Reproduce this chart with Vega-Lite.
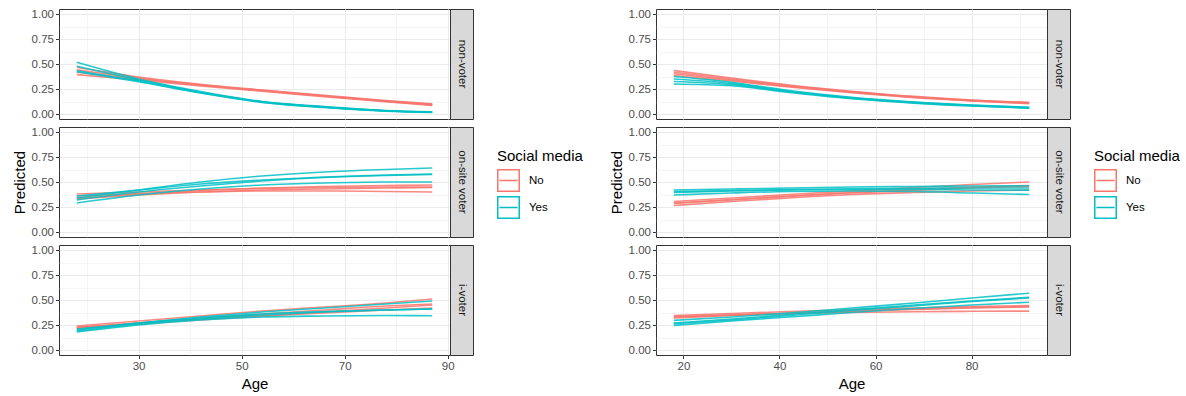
{
"$schema": "https://vega.github.io/schema/vega-lite/v6.json",
"padding": {"left": 11, "top": 7, "right": 0, "bottom": 0},
"background": "white",
"datasets": {"pred": [
{"panel":"A","outcome":"non-voter","social":"No","draw":1,"age":18,"pred":0.467},{"panel":"A","outcome":"non-voter","social":"No","draw":1,"age":30,"pred":0.37},{"panel":"A","outcome":"non-voter","social":"No","draw":1,"age":42,"pred":0.298},{"panel":"A","outcome":"non-voter","social":"No","draw":1,"age":54,"pred":0.24},{"panel":"A","outcome":"non-voter","social":"No","draw":1,"age":66,"pred":0.186},{"panel":"A","outcome":"non-voter","social":"No","draw":1,"age":78,"pred":0.135},{"panel":"A","outcome":"non-voter","social":"No","draw":1,"age":87,"pred":0.101},
{"panel":"A","outcome":"non-voter","social":"No","draw":2,"age":18,"pred":0.443},{"panel":"A","outcome":"non-voter","social":"No","draw":2,"age":30,"pred":0.36},{"panel":"A","outcome":"non-voter","social":"No","draw":2,"age":42,"pred":0.292},{"panel":"A","outcome":"non-voter","social":"No","draw":2,"age":54,"pred":0.236},{"panel":"A","outcome":"non-voter","social":"No","draw":2,"age":66,"pred":0.182},{"panel":"A","outcome":"non-voter","social":"No","draw":2,"age":78,"pred":0.13},{"panel":"A","outcome":"non-voter","social":"No","draw":2,"age":87,"pred":0.096},
{"panel":"A","outcome":"non-voter","social":"No","draw":3,"age":18,"pred":0.418},{"panel":"A","outcome":"non-voter","social":"No","draw":3,"age":30,"pred":0.35},{"panel":"A","outcome":"non-voter","social":"No","draw":3,"age":42,"pred":0.287},{"panel":"A","outcome":"non-voter","social":"No","draw":3,"age":54,"pred":0.232},{"panel":"A","outcome":"non-voter","social":"No","draw":3,"age":66,"pred":0.178},{"panel":"A","outcome":"non-voter","social":"No","draw":3,"age":78,"pred":0.126},{"panel":"A","outcome":"non-voter","social":"No","draw":3,"age":87,"pred":0.091},
{"panel":"A","outcome":"non-voter","social":"No","draw":4,"age":18,"pred":0.394},{"panel":"A","outcome":"non-voter","social":"No","draw":4,"age":30,"pred":0.34},{"panel":"A","outcome":"non-voter","social":"No","draw":4,"age":42,"pred":0.281},{"panel":"A","outcome":"non-voter","social":"No","draw":4,"age":54,"pred":0.228},{"panel":"A","outcome":"non-voter","social":"No","draw":4,"age":66,"pred":0.174},{"panel":"A","outcome":"non-voter","social":"No","draw":4,"age":78,"pred":0.122},{"panel":"A","outcome":"non-voter","social":"No","draw":4,"age":87,"pred":0.086},
{"panel":"A","outcome":"non-voter","social":"Yes","draw":1,"age":18,"pred":0.517},{"panel":"A","outcome":"non-voter","social":"Yes","draw":1,"age":30,"pred":0.35},{"panel":"A","outcome":"non-voter","social":"Yes","draw":1,"age":42,"pred":0.225},{"panel":"A","outcome":"non-voter","social":"Yes","draw":1,"age":54,"pred":0.125},{"panel":"A","outcome":"non-voter","social":"Yes","draw":1,"age":66,"pred":0.074},{"panel":"A","outcome":"non-voter","social":"Yes","draw":1,"age":78,"pred":0.035},{"panel":"A","outcome":"non-voter","social":"Yes","draw":1,"age":87,"pred":0.021},
{"panel":"A","outcome":"non-voter","social":"Yes","draw":2,"age":18,"pred":0.477},{"panel":"A","outcome":"non-voter","social":"Yes","draw":2,"age":30,"pred":0.34},{"panel":"A","outcome":"non-voter","social":"Yes","draw":2,"age":42,"pred":0.22},{"panel":"A","outcome":"non-voter","social":"Yes","draw":2,"age":54,"pred":0.122},{"panel":"A","outcome":"non-voter","social":"Yes","draw":2,"age":66,"pred":0.071},{"panel":"A","outcome":"non-voter","social":"Yes","draw":2,"age":78,"pred":0.033},{"panel":"A","outcome":"non-voter","social":"Yes","draw":2,"age":87,"pred":0.019},
{"panel":"A","outcome":"non-voter","social":"Yes","draw":3,"age":18,"pred":0.433},{"panel":"A","outcome":"non-voter","social":"Yes","draw":3,"age":30,"pred":0.33},{"panel":"A","outcome":"non-voter","social":"Yes","draw":3,"age":42,"pred":0.215},{"panel":"A","outcome":"non-voter","social":"Yes","draw":3,"age":54,"pred":0.119},{"panel":"A","outcome":"non-voter","social":"Yes","draw":3,"age":66,"pred":0.068},{"panel":"A","outcome":"non-voter","social":"Yes","draw":3,"age":78,"pred":0.031},{"panel":"A","outcome":"non-voter","social":"Yes","draw":3,"age":87,"pred":0.017},
{"panel":"A","outcome":"non-voter","social":"Yes","draw":4,"age":18,"pred":0.423},{"panel":"A","outcome":"non-voter","social":"Yes","draw":4,"age":30,"pred":0.322},{"panel":"A","outcome":"non-voter","social":"Yes","draw":4,"age":42,"pred":0.21},{"panel":"A","outcome":"non-voter","social":"Yes","draw":4,"age":54,"pred":0.116},{"panel":"A","outcome":"non-voter","social":"Yes","draw":4,"age":66,"pred":0.065},{"panel":"A","outcome":"non-voter","social":"Yes","draw":4,"age":78,"pred":0.029},{"panel":"A","outcome":"non-voter","social":"Yes","draw":4,"age":87,"pred":0.015},
{"panel":"A","outcome":"on-site voter","social":"No","draw":1,"age":18,"pred":0.38},{"panel":"A","outcome":"on-site voter","social":"No","draw":1,"age":30,"pred":0.40},{"panel":"A","outcome":"on-site voter","social":"No","draw":1,"age":42,"pred":0.42},{"panel":"A","outcome":"on-site voter","social":"No","draw":1,"age":54,"pred":0.435},{"panel":"A","outcome":"on-site voter","social":"No","draw":1,"age":66,"pred":0.445},{"panel":"A","outcome":"on-site voter","social":"No","draw":1,"age":78,"pred":0.45},{"panel":"A","outcome":"on-site voter","social":"No","draw":1,"age":87,"pred":0.45},
{"panel":"A","outcome":"on-site voter","social":"No","draw":2,"age":18,"pred":0.34},{"panel":"A","outcome":"on-site voter","social":"No","draw":2,"age":30,"pred":0.38},{"panel":"A","outcome":"on-site voter","social":"No","draw":2,"age":42,"pred":0.415},{"panel":"A","outcome":"on-site voter","social":"No","draw":2,"age":54,"pred":0.44},{"panel":"A","outcome":"on-site voter","social":"No","draw":2,"age":66,"pred":0.455},{"panel":"A","outcome":"on-site voter","social":"No","draw":2,"age":78,"pred":0.465},{"panel":"A","outcome":"on-site voter","social":"No","draw":2,"age":87,"pred":0.47},
{"panel":"A","outcome":"on-site voter","social":"No","draw":3,"age":18,"pred":0.33},{"panel":"A","outcome":"on-site voter","social":"No","draw":3,"age":30,"pred":0.37},{"panel":"A","outcome":"on-site voter","social":"No","draw":3,"age":42,"pred":0.40},{"panel":"A","outcome":"on-site voter","social":"No","draw":3,"age":54,"pred":0.42},{"panel":"A","outcome":"on-site voter","social":"No","draw":3,"age":66,"pred":0.43},{"panel":"A","outcome":"on-site voter","social":"No","draw":3,"age":78,"pred":0.44},{"panel":"A","outcome":"on-site voter","social":"No","draw":3,"age":87,"pred":0.445},
{"panel":"A","outcome":"on-site voter","social":"No","draw":4,"age":18,"pred":0.36},{"panel":"A","outcome":"on-site voter","social":"No","draw":4,"age":30,"pred":0.385},{"panel":"A","outcome":"on-site voter","social":"No","draw":4,"age":42,"pred":0.40},{"panel":"A","outcome":"on-site voter","social":"No","draw":4,"age":54,"pred":0.41},{"panel":"A","outcome":"on-site voter","social":"No","draw":4,"age":66,"pred":0.41},{"panel":"A","outcome":"on-site voter","social":"No","draw":4,"age":78,"pred":0.405},{"panel":"A","outcome":"on-site voter","social":"No","draw":4,"age":87,"pred":0.40},
{"panel":"A","outcome":"on-site voter","social":"Yes","draw":1,"age":18,"pred":0.34},{"panel":"A","outcome":"on-site voter","social":"Yes","draw":1,"age":30,"pred":0.42},{"panel":"A","outcome":"on-site voter","social":"Yes","draw":1,"age":42,"pred":0.50},{"panel":"A","outcome":"on-site voter","social":"Yes","draw":1,"age":54,"pred":0.56},{"panel":"A","outcome":"on-site voter","social":"Yes","draw":1,"age":66,"pred":0.60},{"panel":"A","outcome":"on-site voter","social":"Yes","draw":1,"age":78,"pred":0.625},{"panel":"A","outcome":"on-site voter","social":"Yes","draw":1,"age":87,"pred":0.64},
{"panel":"A","outcome":"on-site voter","social":"Yes","draw":2,"age":18,"pred":0.36},{"panel":"A","outcome":"on-site voter","social":"Yes","draw":2,"age":30,"pred":0.42},{"panel":"A","outcome":"on-site voter","social":"Yes","draw":2,"age":42,"pred":0.48},{"panel":"A","outcome":"on-site voter","social":"Yes","draw":2,"age":54,"pred":0.52},{"panel":"A","outcome":"on-site voter","social":"Yes","draw":2,"age":66,"pred":0.55},{"panel":"A","outcome":"on-site voter","social":"Yes","draw":2,"age":78,"pred":0.57},{"panel":"A","outcome":"on-site voter","social":"Yes","draw":2,"age":87,"pred":0.58},
{"panel":"A","outcome":"on-site voter","social":"Yes","draw":3,"age":18,"pred":0.32},{"panel":"A","outcome":"on-site voter","social":"Yes","draw":3,"age":30,"pred":0.40},{"panel":"A","outcome":"on-site voter","social":"Yes","draw":3,"age":42,"pred":0.46},{"panel":"A","outcome":"on-site voter","social":"Yes","draw":3,"age":54,"pred":0.51},{"panel":"A","outcome":"on-site voter","social":"Yes","draw":3,"age":66,"pred":0.545},{"panel":"A","outcome":"on-site voter","social":"Yes","draw":3,"age":78,"pred":0.565},{"panel":"A","outcome":"on-site voter","social":"Yes","draw":3,"age":87,"pred":0.575},
{"panel":"A","outcome":"on-site voter","social":"Yes","draw":4,"age":18,"pred":0.29},{"panel":"A","outcome":"on-site voter","social":"Yes","draw":4,"age":30,"pred":0.37},{"panel":"A","outcome":"on-site voter","social":"Yes","draw":4,"age":42,"pred":0.43},{"panel":"A","outcome":"on-site voter","social":"Yes","draw":4,"age":54,"pred":0.47},{"panel":"A","outcome":"on-site voter","social":"Yes","draw":4,"age":66,"pred":0.49},{"panel":"A","outcome":"on-site voter","social":"Yes","draw":4,"age":78,"pred":0.50},{"panel":"A","outcome":"on-site voter","social":"Yes","draw":4,"age":87,"pred":0.50},
{"panel":"A","outcome":"i-voter","social":"No","draw":1,"age":18,"pred":0.24},{"panel":"A","outcome":"i-voter","social":"No","draw":1,"age":30,"pred":0.29},{"panel":"A","outcome":"i-voter","social":"No","draw":1,"age":42,"pred":0.34},{"panel":"A","outcome":"i-voter","social":"No","draw":1,"age":54,"pred":0.39},{"panel":"A","outcome":"i-voter","social":"No","draw":1,"age":66,"pred":0.43},{"panel":"A","outcome":"i-voter","social":"No","draw":1,"age":78,"pred":0.47},{"panel":"A","outcome":"i-voter","social":"No","draw":1,"age":87,"pred":0.51},
{"panel":"A","outcome":"i-voter","social":"No","draw":2,"age":18,"pred":0.22},{"panel":"A","outcome":"i-voter","social":"No","draw":2,"age":30,"pred":0.27},{"panel":"A","outcome":"i-voter","social":"No","draw":2,"age":42,"pred":0.32},{"panel":"A","outcome":"i-voter","social":"No","draw":2,"age":54,"pred":0.36},{"panel":"A","outcome":"i-voter","social":"No","draw":2,"age":66,"pred":0.40},{"panel":"A","outcome":"i-voter","social":"No","draw":2,"age":78,"pred":0.44},{"panel":"A","outcome":"i-voter","social":"No","draw":2,"age":87,"pred":0.46},
{"panel":"A","outcome":"i-voter","social":"No","draw":3,"age":18,"pred":0.215},{"panel":"A","outcome":"i-voter","social":"No","draw":3,"age":30,"pred":0.26},{"panel":"A","outcome":"i-voter","social":"No","draw":3,"age":42,"pred":0.30},{"panel":"A","outcome":"i-voter","social":"No","draw":3,"age":54,"pred":0.34},{"panel":"A","outcome":"i-voter","social":"No","draw":3,"age":66,"pred":0.38},{"panel":"A","outcome":"i-voter","social":"No","draw":3,"age":78,"pred":0.42},{"panel":"A","outcome":"i-voter","social":"No","draw":3,"age":87,"pred":0.45},
{"panel":"A","outcome":"i-voter","social":"No","draw":4,"age":18,"pred":0.23},{"panel":"A","outcome":"i-voter","social":"No","draw":4,"age":30,"pred":0.27},{"panel":"A","outcome":"i-voter","social":"No","draw":4,"age":42,"pred":0.31},{"panel":"A","outcome":"i-voter","social":"No","draw":4,"age":54,"pred":0.34},{"panel":"A","outcome":"i-voter","social":"No","draw":4,"age":66,"pred":0.37},{"panel":"A","outcome":"i-voter","social":"No","draw":4,"age":78,"pred":0.40},{"panel":"A","outcome":"i-voter","social":"No","draw":4,"age":87,"pred":0.42},
{"panel":"A","outcome":"i-voter","social":"Yes","draw":1,"age":18,"pred":0.20},{"panel":"A","outcome":"i-voter","social":"Yes","draw":1,"age":30,"pred":0.27},{"panel":"A","outcome":"i-voter","social":"Yes","draw":1,"age":42,"pred":0.33},{"panel":"A","outcome":"i-voter","social":"Yes","draw":1,"age":54,"pred":0.38},{"panel":"A","outcome":"i-voter","social":"Yes","draw":1,"age":66,"pred":0.42},{"panel":"A","outcome":"i-voter","social":"Yes","draw":1,"age":78,"pred":0.46},{"panel":"A","outcome":"i-voter","social":"Yes","draw":1,"age":87,"pred":0.49},
{"panel":"A","outcome":"i-voter","social":"Yes","draw":2,"age":18,"pred":0.21},{"panel":"A","outcome":"i-voter","social":"Yes","draw":2,"age":30,"pred":0.27},{"panel":"A","outcome":"i-voter","social":"Yes","draw":2,"age":42,"pred":0.32},{"panel":"A","outcome":"i-voter","social":"Yes","draw":2,"age":54,"pred":0.36},{"panel":"A","outcome":"i-voter","social":"Yes","draw":2,"age":66,"pred":0.385},{"panel":"A","outcome":"i-voter","social":"Yes","draw":2,"age":78,"pred":0.40},{"panel":"A","outcome":"i-voter","social":"Yes","draw":2,"age":87,"pred":0.41},
{"panel":"A","outcome":"i-voter","social":"Yes","draw":3,"age":18,"pred":0.19},{"panel":"A","outcome":"i-voter","social":"Yes","draw":3,"age":30,"pred":0.26},{"panel":"A","outcome":"i-voter","social":"Yes","draw":3,"age":42,"pred":0.31},{"panel":"A","outcome":"i-voter","social":"Yes","draw":3,"age":54,"pred":0.35},{"panel":"A","outcome":"i-voter","social":"Yes","draw":3,"age":66,"pred":0.38},{"panel":"A","outcome":"i-voter","social":"Yes","draw":3,"age":78,"pred":0.40},{"panel":"A","outcome":"i-voter","social":"Yes","draw":3,"age":87,"pred":0.41},
{"panel":"A","outcome":"i-voter","social":"Yes","draw":4,"age":18,"pred":0.18},{"panel":"A","outcome":"i-voter","social":"Yes","draw":4,"age":30,"pred":0.25},{"panel":"A","outcome":"i-voter","social":"Yes","draw":4,"age":42,"pred":0.30},{"panel":"A","outcome":"i-voter","social":"Yes","draw":4,"age":54,"pred":0.33},{"panel":"A","outcome":"i-voter","social":"Yes","draw":4,"age":66,"pred":0.34},{"panel":"A","outcome":"i-voter","social":"Yes","draw":4,"age":78,"pred":0.345},{"panel":"A","outcome":"i-voter","social":"Yes","draw":4,"age":87,"pred":0.343},
{"panel":"B","outcome":"non-voter","social":"No","draw":1,"age":18,"pred":0.435},{"panel":"B","outcome":"non-voter","social":"No","draw":1,"age":30,"pred":0.36},{"panel":"B","outcome":"non-voter","social":"No","draw":1,"age":42,"pred":0.29},{"panel":"B","outcome":"non-voter","social":"No","draw":1,"age":55,"pred":0.228},{"panel":"B","outcome":"non-voter","social":"No","draw":1,"age":68,"pred":0.176},{"panel":"B","outcome":"non-voter","social":"No","draw":1,"age":80,"pred":0.14},{"panel":"B","outcome":"non-voter","social":"No","draw":1,"age":92,"pred":0.116},
{"panel":"B","outcome":"non-voter","social":"No","draw":2,"age":18,"pred":0.418},{"panel":"B","outcome":"non-voter","social":"No","draw":2,"age":30,"pred":0.35},{"panel":"B","outcome":"non-voter","social":"No","draw":2,"age":42,"pred":0.283},{"panel":"B","outcome":"non-voter","social":"No","draw":2,"age":55,"pred":0.223},{"panel":"B","outcome":"non-voter","social":"No","draw":2,"age":68,"pred":0.172},{"panel":"B","outcome":"non-voter","social":"No","draw":2,"age":80,"pred":0.137},{"panel":"B","outcome":"non-voter","social":"No","draw":2,"age":92,"pred":0.112},
{"panel":"B","outcome":"non-voter","social":"No","draw":3,"age":18,"pred":0.402},{"panel":"B","outcome":"non-voter","social":"No","draw":3,"age":30,"pred":0.34},{"panel":"B","outcome":"non-voter","social":"No","draw":3,"age":42,"pred":0.277},{"panel":"B","outcome":"non-voter","social":"No","draw":3,"age":55,"pred":0.218},{"panel":"B","outcome":"non-voter","social":"No","draw":3,"age":68,"pred":0.168},{"panel":"B","outcome":"non-voter","social":"No","draw":3,"age":80,"pred":0.133},{"panel":"B","outcome":"non-voter","social":"No","draw":3,"age":92,"pred":0.108},
{"panel":"B","outcome":"non-voter","social":"No","draw":4,"age":18,"pred":0.385},{"panel":"B","outcome":"non-voter","social":"No","draw":4,"age":30,"pred":0.33},{"panel":"B","outcome":"non-voter","social":"No","draw":4,"age":42,"pred":0.27},{"panel":"B","outcome":"non-voter","social":"No","draw":4,"age":55,"pred":0.212},{"panel":"B","outcome":"non-voter","social":"No","draw":4,"age":68,"pred":0.164},{"panel":"B","outcome":"non-voter","social":"No","draw":4,"age":80,"pred":0.13},{"panel":"B","outcome":"non-voter","social":"No","draw":4,"age":92,"pred":0.104},
{"panel":"B","outcome":"non-voter","social":"Yes","draw":1,"age":18,"pred":0.375},{"panel":"B","outcome":"non-voter","social":"Yes","draw":1,"age":30,"pred":0.318},{"panel":"B","outcome":"non-voter","social":"Yes","draw":1,"age":42,"pred":0.235},{"panel":"B","outcome":"non-voter","social":"Yes","draw":1,"age":55,"pred":0.167},{"panel":"B","outcome":"non-voter","social":"Yes","draw":1,"age":68,"pred":0.12},{"panel":"B","outcome":"non-voter","social":"Yes","draw":1,"age":80,"pred":0.089},{"panel":"B","outcome":"non-voter","social":"Yes","draw":1,"age":92,"pred":0.067},
{"panel":"B","outcome":"non-voter","social":"Yes","draw":2,"age":18,"pred":0.35},{"panel":"B","outcome":"non-voter","social":"Yes","draw":2,"age":30,"pred":0.306},{"panel":"B","outcome":"non-voter","social":"Yes","draw":2,"age":42,"pred":0.228},{"panel":"B","outcome":"non-voter","social":"Yes","draw":2,"age":55,"pred":0.162},{"panel":"B","outcome":"non-voter","social":"Yes","draw":2,"age":68,"pred":0.117},{"panel":"B","outcome":"non-voter","social":"Yes","draw":2,"age":80,"pred":0.086},{"panel":"B","outcome":"non-voter","social":"Yes","draw":2,"age":92,"pred":0.064},
{"panel":"B","outcome":"non-voter","social":"Yes","draw":3,"age":18,"pred":0.325},{"panel":"B","outcome":"non-voter","social":"Yes","draw":3,"age":30,"pred":0.294},{"panel":"B","outcome":"non-voter","social":"Yes","draw":3,"age":42,"pred":0.222},{"panel":"B","outcome":"non-voter","social":"Yes","draw":3,"age":55,"pred":0.158},{"panel":"B","outcome":"non-voter","social":"Yes","draw":3,"age":68,"pred":0.113},{"panel":"B","outcome":"non-voter","social":"Yes","draw":3,"age":80,"pred":0.083},{"panel":"B","outcome":"non-voter","social":"Yes","draw":3,"age":92,"pred":0.061},
{"panel":"B","outcome":"non-voter","social":"Yes","draw":4,"age":18,"pred":0.30},{"panel":"B","outcome":"non-voter","social":"Yes","draw":4,"age":30,"pred":0.282},{"panel":"B","outcome":"non-voter","social":"Yes","draw":4,"age":42,"pred":0.215},{"panel":"B","outcome":"non-voter","social":"Yes","draw":4,"age":55,"pred":0.153},{"panel":"B","outcome":"non-voter","social":"Yes","draw":4,"age":68,"pred":0.109},{"panel":"B","outcome":"non-voter","social":"Yes","draw":4,"age":80,"pred":0.08},{"panel":"B","outcome":"non-voter","social":"Yes","draw":4,"age":92,"pred":0.058},
{"panel":"B","outcome":"on-site voter","social":"No","draw":1,"age":18,"pred":0.305},{"panel":"B","outcome":"on-site voter","social":"No","draw":1,"age":30,"pred":0.34},{"panel":"B","outcome":"on-site voter","social":"No","draw":1,"age":42,"pred":0.375},{"panel":"B","outcome":"on-site voter","social":"No","draw":1,"age":55,"pred":0.41},{"panel":"B","outcome":"on-site voter","social":"No","draw":1,"age":68,"pred":0.445},{"panel":"B","outcome":"on-site voter","social":"No","draw":1,"age":80,"pred":0.475},{"panel":"B","outcome":"on-site voter","social":"No","draw":1,"age":92,"pred":0.50},
{"panel":"B","outcome":"on-site voter","social":"No","draw":2,"age":18,"pred":0.29},{"panel":"B","outcome":"on-site voter","social":"No","draw":2,"age":30,"pred":0.325},{"panel":"B","outcome":"on-site voter","social":"No","draw":2,"age":42,"pred":0.36},{"panel":"B","outcome":"on-site voter","social":"No","draw":2,"age":55,"pred":0.395},{"panel":"B","outcome":"on-site voter","social":"No","draw":2,"age":68,"pred":0.425},{"panel":"B","outcome":"on-site voter","social":"No","draw":2,"age":80,"pred":0.45},{"panel":"B","outcome":"on-site voter","social":"No","draw":2,"age":92,"pred":0.465},
{"panel":"B","outcome":"on-site voter","social":"No","draw":3,"age":18,"pred":0.285},{"panel":"B","outcome":"on-site voter","social":"No","draw":3,"age":30,"pred":0.32},{"panel":"B","outcome":"on-site voter","social":"No","draw":3,"age":42,"pred":0.355},{"panel":"B","outcome":"on-site voter","social":"No","draw":3,"age":55,"pred":0.39},{"panel":"B","outcome":"on-site voter","social":"No","draw":3,"age":68,"pred":0.415},{"panel":"B","outcome":"on-site voter","social":"No","draw":3,"age":80,"pred":0.44},{"panel":"B","outcome":"on-site voter","social":"No","draw":3,"age":92,"pred":0.455},
{"panel":"B","outcome":"on-site voter","social":"No","draw":4,"age":18,"pred":0.265},{"panel":"B","outcome":"on-site voter","social":"No","draw":4,"age":30,"pred":0.305},{"panel":"B","outcome":"on-site voter","social":"No","draw":4,"age":42,"pred":0.34},{"panel":"B","outcome":"on-site voter","social":"No","draw":4,"age":55,"pred":0.375},{"panel":"B","outcome":"on-site voter","social":"No","draw":4,"age":68,"pred":0.395},{"panel":"B","outcome":"on-site voter","social":"No","draw":4,"age":80,"pred":0.41},{"panel":"B","outcome":"on-site voter","social":"No","draw":4,"age":92,"pred":0.42},
{"panel":"B","outcome":"on-site voter","social":"Yes","draw":1,"age":18,"pred":0.42},{"panel":"B","outcome":"on-site voter","social":"Yes","draw":1,"age":30,"pred":0.43},{"panel":"B","outcome":"on-site voter","social":"Yes","draw":1,"age":42,"pred":0.44},{"panel":"B","outcome":"on-site voter","social":"Yes","draw":1,"age":55,"pred":0.45},{"panel":"B","outcome":"on-site voter","social":"Yes","draw":1,"age":68,"pred":0.455},{"panel":"B","outcome":"on-site voter","social":"Yes","draw":1,"age":80,"pred":0.46},{"panel":"B","outcome":"on-site voter","social":"Yes","draw":1,"age":92,"pred":0.462},
{"panel":"B","outcome":"on-site voter","social":"Yes","draw":2,"age":18,"pred":0.405},{"panel":"B","outcome":"on-site voter","social":"Yes","draw":2,"age":30,"pred":0.415},{"panel":"B","outcome":"on-site voter","social":"Yes","draw":2,"age":42,"pred":0.425},{"panel":"B","outcome":"on-site voter","social":"Yes","draw":2,"age":55,"pred":0.432},{"panel":"B","outcome":"on-site voter","social":"Yes","draw":2,"age":68,"pred":0.436},{"panel":"B","outcome":"on-site voter","social":"Yes","draw":2,"age":80,"pred":0.44},{"panel":"B","outcome":"on-site voter","social":"Yes","draw":2,"age":92,"pred":0.44},
{"panel":"B","outcome":"on-site voter","social":"Yes","draw":3,"age":18,"pred":0.395},{"panel":"B","outcome":"on-site voter","social":"Yes","draw":3,"age":30,"pred":0.41},{"panel":"B","outcome":"on-site voter","social":"Yes","draw":3,"age":42,"pred":0.42},{"panel":"B","outcome":"on-site voter","social":"Yes","draw":3,"age":55,"pred":0.425},{"panel":"B","outcome":"on-site voter","social":"Yes","draw":3,"age":68,"pred":0.425},{"panel":"B","outcome":"on-site voter","social":"Yes","draw":3,"age":80,"pred":0.42},{"panel":"B","outcome":"on-site voter","social":"Yes","draw":3,"age":92,"pred":0.419},
{"panel":"B","outcome":"on-site voter","social":"Yes","draw":4,"age":18,"pred":0.37},{"panel":"B","outcome":"on-site voter","social":"Yes","draw":4,"age":30,"pred":0.39},{"panel":"B","outcome":"on-site voter","social":"Yes","draw":4,"age":42,"pred":0.405},{"panel":"B","outcome":"on-site voter","social":"Yes","draw":4,"age":55,"pred":0.41},{"panel":"B","outcome":"on-site voter","social":"Yes","draw":4,"age":68,"pred":0.405},{"panel":"B","outcome":"on-site voter","social":"Yes","draw":4,"age":80,"pred":0.39},{"panel":"B","outcome":"on-site voter","social":"Yes","draw":4,"age":92,"pred":0.375},
{"panel":"B","outcome":"i-voter","social":"No","draw":1,"age":18,"pred":0.345},{"panel":"B","outcome":"i-voter","social":"No","draw":1,"age":30,"pred":0.365},{"panel":"B","outcome":"i-voter","social":"No","draw":1,"age":42,"pred":0.385},{"panel":"B","outcome":"i-voter","social":"No","draw":1,"age":55,"pred":0.405},{"panel":"B","outcome":"i-voter","social":"No","draw":1,"age":68,"pred":0.42},{"panel":"B","outcome":"i-voter","social":"No","draw":1,"age":80,"pred":0.435},{"panel":"B","outcome":"i-voter","social":"No","draw":1,"age":92,"pred":0.445},
{"panel":"B","outcome":"i-voter","social":"No","draw":2,"age":18,"pred":0.33},{"panel":"B","outcome":"i-voter","social":"No","draw":2,"age":30,"pred":0.35},{"panel":"B","outcome":"i-voter","social":"No","draw":2,"age":42,"pred":0.37},{"panel":"B","outcome":"i-voter","social":"No","draw":2,"age":55,"pred":0.39},{"panel":"B","outcome":"i-voter","social":"No","draw":2,"age":68,"pred":0.41},{"panel":"B","outcome":"i-voter","social":"No","draw":2,"age":80,"pred":0.425},{"panel":"B","outcome":"i-voter","social":"No","draw":2,"age":92,"pred":0.435},
{"panel":"B","outcome":"i-voter","social":"No","draw":3,"age":18,"pred":0.32},{"panel":"B","outcome":"i-voter","social":"No","draw":3,"age":30,"pred":0.345},{"panel":"B","outcome":"i-voter","social":"No","draw":3,"age":42,"pred":0.365},{"panel":"B","outcome":"i-voter","social":"No","draw":3,"age":55,"pred":0.385},{"panel":"B","outcome":"i-voter","social":"No","draw":3,"age":68,"pred":0.405},{"panel":"B","outcome":"i-voter","social":"No","draw":3,"age":80,"pred":0.42},{"panel":"B","outcome":"i-voter","social":"No","draw":3,"age":92,"pred":0.43},
{"panel":"B","outcome":"i-voter","social":"No","draw":4,"age":18,"pred":0.335},{"panel":"B","outcome":"i-voter","social":"No","draw":4,"age":30,"pred":0.35},{"panel":"B","outcome":"i-voter","social":"No","draw":4,"age":42,"pred":0.365},{"panel":"B","outcome":"i-voter","social":"No","draw":4,"age":55,"pred":0.375},{"panel":"B","outcome":"i-voter","social":"No","draw":4,"age":68,"pred":0.383},{"panel":"B","outcome":"i-voter","social":"No","draw":4,"age":80,"pred":0.387},{"panel":"B","outcome":"i-voter","social":"No","draw":4,"age":92,"pred":0.389},
{"panel":"B","outcome":"i-voter","social":"Yes","draw":1,"age":18,"pred":0.296},{"panel":"B","outcome":"i-voter","social":"Yes","draw":1,"age":30,"pred":0.33},{"panel":"B","outcome":"i-voter","social":"Yes","draw":1,"age":42,"pred":0.37},{"panel":"B","outcome":"i-voter","social":"Yes","draw":1,"age":55,"pred":0.42},{"panel":"B","outcome":"i-voter","social":"Yes","draw":1,"age":68,"pred":0.47},{"panel":"B","outcome":"i-voter","social":"Yes","draw":1,"age":80,"pred":0.52},{"panel":"B","outcome":"i-voter","social":"Yes","draw":1,"age":92,"pred":0.568},
{"panel":"B","outcome":"i-voter","social":"Yes","draw":2,"age":18,"pred":0.27},{"panel":"B","outcome":"i-voter","social":"Yes","draw":2,"age":30,"pred":0.31},{"panel":"B","outcome":"i-voter","social":"Yes","draw":2,"age":42,"pred":0.355},{"panel":"B","outcome":"i-voter","social":"Yes","draw":2,"age":55,"pred":0.405},{"panel":"B","outcome":"i-voter","social":"Yes","draw":2,"age":68,"pred":0.45},{"panel":"B","outcome":"i-voter","social":"Yes","draw":2,"age":80,"pred":0.49},{"panel":"B","outcome":"i-voter","social":"Yes","draw":2,"age":92,"pred":0.528},
{"panel":"B","outcome":"i-voter","social":"Yes","draw":3,"age":18,"pred":0.262},{"panel":"B","outcome":"i-voter","social":"Yes","draw":3,"age":30,"pred":0.30},{"panel":"B","outcome":"i-voter","social":"Yes","draw":3,"age":42,"pred":0.345},{"panel":"B","outcome":"i-voter","social":"Yes","draw":3,"age":55,"pred":0.395},{"panel":"B","outcome":"i-voter","social":"Yes","draw":3,"age":68,"pred":0.44},{"panel":"B","outcome":"i-voter","social":"Yes","draw":3,"age":80,"pred":0.485},{"panel":"B","outcome":"i-voter","social":"Yes","draw":3,"age":92,"pred":0.52},
{"panel":"B","outcome":"i-voter","social":"Yes","draw":4,"age":18,"pred":0.246},{"panel":"B","outcome":"i-voter","social":"Yes","draw":4,"age":30,"pred":0.29},{"panel":"B","outcome":"i-voter","social":"Yes","draw":4,"age":42,"pred":0.33},{"panel":"B","outcome":"i-voter","social":"Yes","draw":4,"age":55,"pred":0.375},{"panel":"B","outcome":"i-voter","social":"Yes","draw":4,"age":68,"pred":0.415},{"panel":"B","outcome":"i-voter","social":"Yes","draw":4,"age":80,"pred":0.45},{"panel":"B","outcome":"i-voter","social":"Yes","draw":4,"age":92,"pred":0.478}
]},
"config": {
  "font": "Liberation Sans",
  "view": {"stroke": "#333333", "strokeWidth": 1},
  "axis": {"domain": false, "gridColor": "#EBEBEB", "labelColor": "#4D4D4D", "labelFontSize": 11.5, "tickColor": "#333333", "tickSize": 3.5, "tickWidth": 1, "labelPadding": 2, "titleFontSize": 15, "titleFontWeight": "normal", "titleColor": "#000000", "labelOverlap": false, "labelFlush": false, "titlePadding": 4},
  "legend": {"titleFontSize": 15, "titleFontWeight": "normal", "titleColor": "#000000", "labelFontSize": 11.5, "labelColor": "#000000", "labelOffset": 9, "rowPadding": -2, "titlePadding": 5, "padding": 0}
},
"spacing": 24,
"resolve": {"scale": {"color": "independent"}, "legend": {"color": "independent"}},
"hconcat": [
 {"vconcat": [
  {"hconcat": [
   {"width": 391, "height": 110, "data": {"name": "pred"},
    "transform": [{"filter": "datum.panel === 'A' && datum.outcome === 'non-voter'"}],
    "mark": {"type": "line", "strokeWidth": 1.6, "opacity": 0.85, "interpolate": "monotone"},
    "encoding": {
     "x": {"field": "age", "type": "quantitative", "scale": {"domain": [14.55, 90.45], "nice": false, "zero": false},
       "axis": {"values": [20,30,40,50,60,70,80,90], "labels": false, "ticks": false, "title": null, "gridWidth": {"condition": {"test": "(datum.value/10)%2===0", "value": 0.5}, "value": 1}}},
     "y": {"field": "pred", "type": "quantitative", "scale": {"domain": [-0.05, 1.05], "nice": false, "zero": false},
       "axis": {"values": [0,0.125,0.25,0.375,0.5,0.625,0.75,0.875,1], "title": null, "labelExpr": "datum.value % 0.25 === 0 ? format(datum.value, '.2f') : ''", "gridWidth": {"condition": {"test": "datum.value % 0.25 !== 0", "value": 0.5}, "value": 1}, "tickOpacity": {"condition": {"test": "datum.value % 0.25 !== 0", "value": 0}, "value": 1}}},
     "color": {"field": "social", "type": "nominal", "scale": {"domain": ["No","Yes"], "range": ["#F8766D","#00BFC4"]}, "legend": null},
     "detail": {"field": "draw", "type": "nominal"}
    }},
   {"width": 23, "height": 110, "view": {"fill": "#D9D9D9", "stroke": "#333333"},
    "data": {"values": [{"label": "non-voter"}]},
    "mark": {"type": "text", "angle": 90, "fontSize": 11.5, "color": "#1A1A1A", "align": "center", "baseline": "middle"},
    "encoding": {"text": {"field": "label", "type": "nominal"}}}
  ], "spacing": 0, "bounds": "flush", "resolve": {"scale": {"color": "independent"}, "legend": {"color": "independent"}}},
  {"hconcat": [
   {"width": 391, "height": 110, "data": {"name": "pred"},
    "transform": [{"filter": "datum.panel === 'A' && datum.outcome === 'on-site voter'"}],
    "mark": {"type": "line", "strokeWidth": 1.6, "opacity": 0.85, "interpolate": "monotone"},
    "encoding": {
     "x": {"field": "age", "type": "quantitative", "scale": {"domain": [14.55, 90.45], "nice": false, "zero": false},
       "axis": {"values": [20,30,40,50,60,70,80,90], "labels": false, "ticks": false, "title": null, "gridWidth": {"condition": {"test": "(datum.value/10)%2===0", "value": 0.5}, "value": 1}}},
     "y": {"field": "pred", "type": "quantitative", "scale": {"domain": [-0.05, 1.05], "nice": false, "zero": false},
       "axis": {"values": [0,0.125,0.25,0.375,0.5,0.625,0.75,0.875,1], "title": "Predicted", "labelExpr": "datum.value % 0.25 === 0 ? format(datum.value, '.2f') : ''", "gridWidth": {"condition": {"test": "datum.value % 0.25 !== 0", "value": 0.5}, "value": 1}, "tickOpacity": {"condition": {"test": "datum.value % 0.25 !== 0", "value": 0}, "value": 1}}},
     "color": {"field": "social", "type": "nominal", "scale": {"domain": ["No","Yes"], "range": ["#F8766D","#00BFC4"]}, "legend": null},
     "detail": {"field": "draw", "type": "nominal"}
    }},
   {"width": 23, "height": 110, "view": {"fill": "#D9D9D9", "stroke": "#333333"},
    "layer": [
     {"data": {"values": [{"label": "on-site voter"}]},
      "mark": {"type": "text", "angle": 90, "fontSize": 11.5, "color": "#1A1A1A", "align": "center", "baseline": "middle"},
      "encoding": {"text": {"field": "label", "type": "nominal"}}},
     {"data": {"values": [{"social": "No"}, {"social": "Yes"}]},
      "mark": {"type": "line", "strokeOpacity": 0},
      "encoding": {"color": {"field": "social", "type": "nominal", "scale": {"domain": ["No","Yes"], "range": ["#F8766D","#00BFC4"]}, "title": "Social media",
        "legend": {"orient": "none", "legendX": 47, "legendY": 22, "symbolType": "M-1,-1L1,-1L1,1L-1,1Z M-0.85,0L0.85,0", "symbolSize": 460, "symbolStrokeWidth": 1.5, "symbolOpacity": 1, "symbolFillColor": "transparent"}}}}
    ]}
  ], "spacing": 0, "bounds": "flush", "resolve": {"scale": {"color": "independent"}, "legend": {"color": "independent"}}},
  {"hconcat": [
   {"width": 391, "height": 110, "data": {"name": "pred"},
    "transform": [{"filter": "datum.panel === 'A' && datum.outcome === 'i-voter'"}],
    "mark": {"type": "line", "strokeWidth": 1.6, "opacity": 0.85, "interpolate": "monotone"},
    "encoding": {
     "x": {"field": "age", "type": "quantitative", "scale": {"domain": [14.55, 90.45], "nice": false, "zero": false},
       "axis": {"values": [20,30,40,50,60,70,80,90], "title": "Age", "labelExpr": "(datum.value/10)%2===1 ? datum.label : ''", "gridWidth": {"condition": {"test": "(datum.value/10)%2===0", "value": 0.5}, "value": 1}, "tickOpacity": {"condition": {"test": "(datum.value/10)%2===0", "value": 0}, "value": 1}}},
     "y": {"field": "pred", "type": "quantitative", "scale": {"domain": [-0.05, 1.05], "nice": false, "zero": false},
       "axis": {"values": [0,0.125,0.25,0.375,0.5,0.625,0.75,0.875,1], "title": null, "labelExpr": "datum.value % 0.25 === 0 ? format(datum.value, '.2f') : ''", "gridWidth": {"condition": {"test": "datum.value % 0.25 !== 0", "value": 0.5}, "value": 1}, "tickOpacity": {"condition": {"test": "datum.value % 0.25 !== 0", "value": 0}, "value": 1}}},
     "color": {"field": "social", "type": "nominal", "scale": {"domain": ["No","Yes"], "range": ["#F8766D","#00BFC4"]}, "legend": null},
     "detail": {"field": "draw", "type": "nominal"}
    }},
   {"width": 23, "height": 110, "view": {"fill": "#D9D9D9", "stroke": "#333333"},
    "data": {"values": [{"label": "i-voter"}]},
    "mark": {"type": "text", "angle": 90, "fontSize": 11.5, "color": "#1A1A1A", "align": "center", "baseline": "middle"},
    "encoding": {"text": {"field": "label", "type": "nominal"}}}
  ], "spacing": 0, "bounds": "flush", "resolve": {"scale": {"color": "independent"}, "legend": {"color": "independent"}}}
 ], "spacing": 5, "resolve": {"scale": {"color": "independent"}, "legend": {"color": "independent"}}},
 {"vconcat": [
  {"hconcat": [
   {"width": 391, "height": 110, "data": {"name": "pred"},
    "transform": [{"filter": "datum.panel === 'B' && datum.outcome === 'non-voter'"}],
    "mark": {"type": "line", "strokeWidth": 1.6, "opacity": 0.85, "interpolate": "monotone"},
    "encoding": {
     "x": {"field": "age", "type": "quantitative", "scale": {"domain": [14.3, 95.7], "nice": false, "zero": false},
       "axis": {"values": [20,30,40,50,60,70,80,90], "labels": false, "ticks": false, "title": null, "gridWidth": {"condition": {"test": "(datum.value/10)%2===1", "value": 0.5}, "value": 1}}},
     "y": {"field": "pred", "type": "quantitative", "scale": {"domain": [-0.05, 1.05], "nice": false, "zero": false},
       "axis": {"values": [0,0.125,0.25,0.375,0.5,0.625,0.75,0.875,1], "title": null, "labelExpr": "datum.value % 0.25 === 0 ? format(datum.value, '.2f') : ''", "gridWidth": {"condition": {"test": "datum.value % 0.25 !== 0", "value": 0.5}, "value": 1}, "tickOpacity": {"condition": {"test": "datum.value % 0.25 !== 0", "value": 0}, "value": 1}}},
     "color": {"field": "social", "type": "nominal", "scale": {"domain": ["No","Yes"], "range": ["#F8766D","#00BFC4"]}, "legend": null},
     "detail": {"field": "draw", "type": "nominal"}
    }},
   {"width": 23, "height": 110, "view": {"fill": "#D9D9D9", "stroke": "#333333"},
    "data": {"values": [{"label": "non-voter"}]},
    "mark": {"type": "text", "angle": 90, "fontSize": 11.5, "color": "#1A1A1A", "align": "center", "baseline": "middle"},
    "encoding": {"text": {"field": "label", "type": "nominal"}}}
  ], "spacing": 0, "bounds": "flush", "resolve": {"scale": {"color": "independent"}, "legend": {"color": "independent"}}},
  {"hconcat": [
   {"width": 391, "height": 110, "data": {"name": "pred"},
    "transform": [{"filter": "datum.panel === 'B' && datum.outcome === 'on-site voter'"}],
    "mark": {"type": "line", "strokeWidth": 1.6, "opacity": 0.85, "interpolate": "monotone"},
    "encoding": {
     "x": {"field": "age", "type": "quantitative", "scale": {"domain": [14.3, 95.7], "nice": false, "zero": false},
       "axis": {"values": [20,30,40,50,60,70,80,90], "labels": false, "ticks": false, "title": null, "gridWidth": {"condition": {"test": "(datum.value/10)%2===1", "value": 0.5}, "value": 1}}},
     "y": {"field": "pred", "type": "quantitative", "scale": {"domain": [-0.05, 1.05], "nice": false, "zero": false},
       "axis": {"values": [0,0.125,0.25,0.375,0.5,0.625,0.75,0.875,1], "title": "Predicted", "labelExpr": "datum.value % 0.25 === 0 ? format(datum.value, '.2f') : ''", "gridWidth": {"condition": {"test": "datum.value % 0.25 !== 0", "value": 0.5}, "value": 1}, "tickOpacity": {"condition": {"test": "datum.value % 0.25 !== 0", "value": 0}, "value": 1}}},
     "color": {"field": "social", "type": "nominal", "scale": {"domain": ["No","Yes"], "range": ["#F8766D","#00BFC4"]}, "legend": null},
     "detail": {"field": "draw", "type": "nominal"}
    }},
   {"width": 23, "height": 110, "view": {"fill": "#D9D9D9", "stroke": "#333333"},
    "layer": [
     {"data": {"values": [{"label": "on-site voter"}]},
      "mark": {"type": "text", "angle": 90, "fontSize": 11.5, "color": "#1A1A1A", "align": "center", "baseline": "middle"},
      "encoding": {"text": {"field": "label", "type": "nominal"}}},
     {"data": {"values": [{"social": "No"}, {"social": "Yes"}]},
      "mark": {"type": "line", "strokeOpacity": 0},
      "encoding": {"color": {"field": "social", "type": "nominal", "scale": {"domain": ["No","Yes"], "range": ["#F8766D","#00BFC4"]}, "title": "Social media",
        "legend": {"orient": "none", "legendX": 47, "legendY": 22, "symbolType": "M-1,-1L1,-1L1,1L-1,1Z M-0.85,0L0.85,0", "symbolSize": 460, "symbolStrokeWidth": 1.5, "symbolOpacity": 1, "symbolFillColor": "transparent"}}}}
    ]}
  ], "spacing": 0, "bounds": "flush", "resolve": {"scale": {"color": "independent"}, "legend": {"color": "independent"}}},
  {"hconcat": [
   {"width": 391, "height": 110, "data": {"name": "pred"},
    "transform": [{"filter": "datum.panel === 'B' && datum.outcome === 'i-voter'"}],
    "mark": {"type": "line", "strokeWidth": 1.6, "opacity": 0.85, "interpolate": "monotone"},
    "encoding": {
     "x": {"field": "age", "type": "quantitative", "scale": {"domain": [14.3, 95.7], "nice": false, "zero": false},
       "axis": {"values": [20,30,40,50,60,70,80,90], "title": "Age", "labelExpr": "(datum.value/10)%2===0 ? datum.label : ''", "gridWidth": {"condition": {"test": "(datum.value/10)%2===1", "value": 0.5}, "value": 1}, "tickOpacity": {"condition": {"test": "(datum.value/10)%2===1", "value": 0}, "value": 1}}},
     "y": {"field": "pred", "type": "quantitative", "scale": {"domain": [-0.05, 1.05], "nice": false, "zero": false},
       "axis": {"values": [0,0.125,0.25,0.375,0.5,0.625,0.75,0.875,1], "title": null, "labelExpr": "datum.value % 0.25 === 0 ? format(datum.value, '.2f') : ''", "gridWidth": {"condition": {"test": "datum.value % 0.25 !== 0", "value": 0.5}, "value": 1}, "tickOpacity": {"condition": {"test": "datum.value % 0.25 !== 0", "value": 0}, "value": 1}}},
     "color": {"field": "social", "type": "nominal", "scale": {"domain": ["No","Yes"], "range": ["#F8766D","#00BFC4"]}, "legend": null},
     "detail": {"field": "draw", "type": "nominal"}
    }},
   {"width": 23, "height": 110, "view": {"fill": "#D9D9D9", "stroke": "#333333"},
    "data": {"values": [{"label": "i-voter"}]},
    "mark": {"type": "text", "angle": 90, "fontSize": 11.5, "color": "#1A1A1A", "align": "center", "baseline": "middle"},
    "encoding": {"text": {"field": "label", "type": "nominal"}}}
  ], "spacing": 0, "bounds": "flush", "resolve": {"scale": {"color": "independent"}, "legend": {"color": "independent"}}}
 ], "spacing": 5, "resolve": {"scale": {"color": "independent"}, "legend": {"color": "independent"}}}
]
}
